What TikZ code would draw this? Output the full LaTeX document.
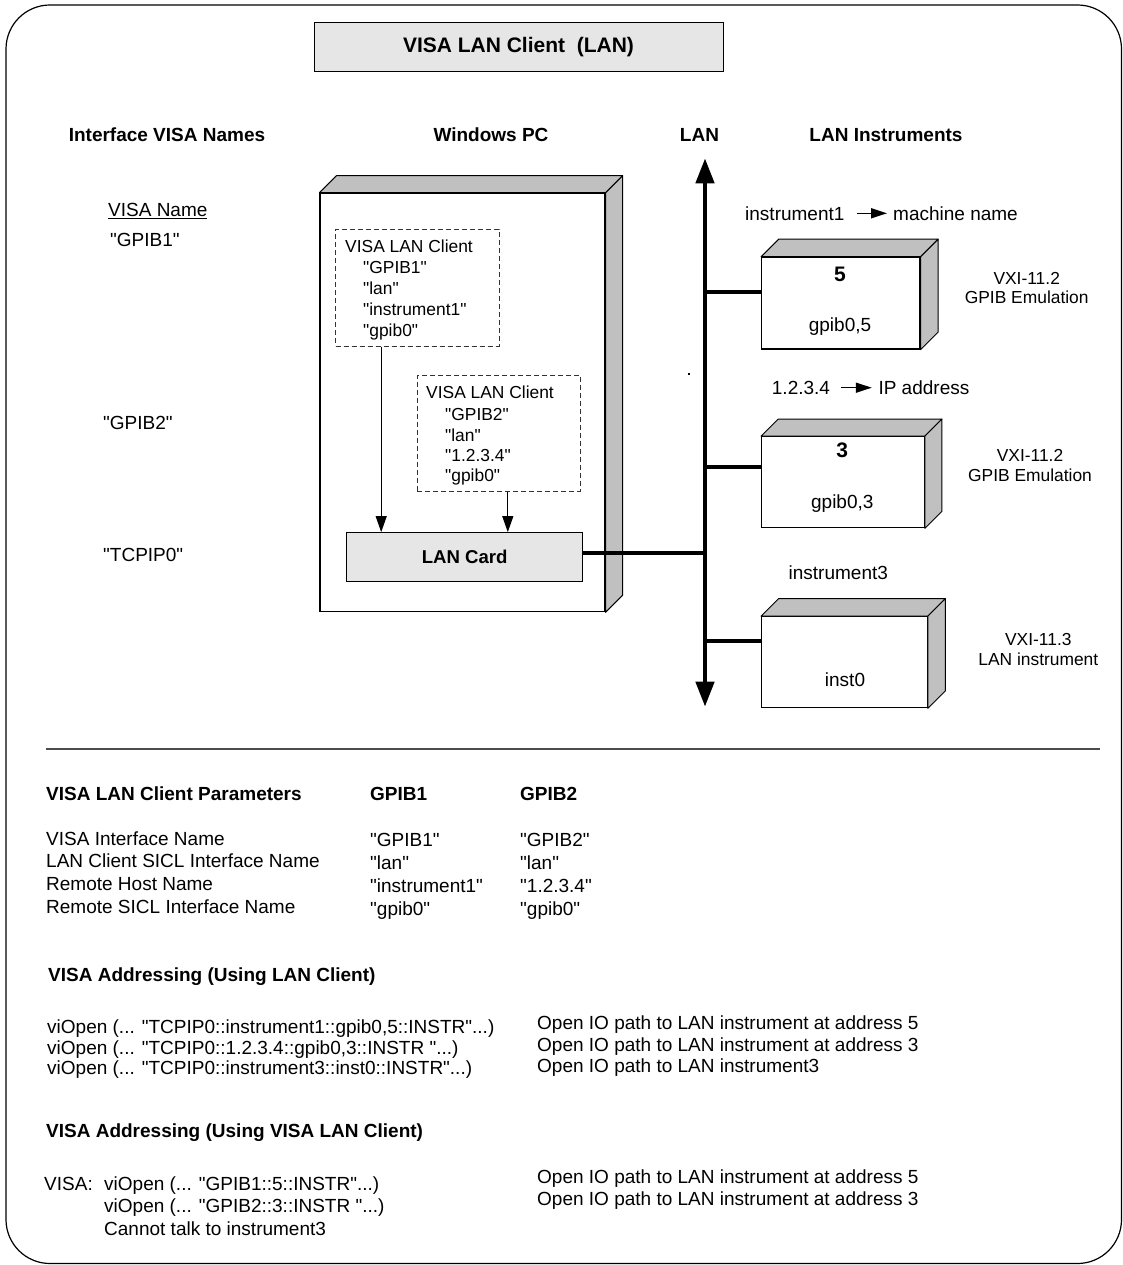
\documentclass[tikz,border=0pt]{standalone}
\usepackage{fontspec}
\setmainfont{Liberation Sans}[Ligatures=TeXOff]
\usetikzlibrary{arrows.meta}
\definecolor{lgray}{HTML}{E6E6E6}
\definecolor{sgray}{HTML}{C0C0C0}
\newcommand\boxsides[2]{%
  \filldraw[side] (#1.north west) -- ++(#2,-#2) -- ([shift={(#2,-#2)}]#1.north east) -- (#1.north east) -- cycle;
  \filldraw[side] (#1.north east) -- ([shift={(#2,-#2)}]#1.north east) -- ([shift={(#2,-#2)}]#1.south east) -- (#1.south east) -- cycle;}
\begin{document}
\begin{tikzpicture}[x=1pt,y=-1pt,
  t19/.style={font=\fontsize{19}{22}\selectfont, inner sep=0pt, text height=13.6pt, text depth=0pt},
  b19/.style={t19, font=\fontsize{19}{22}\selectfont\bfseries},
  t17/.style={font=\fontsize{17.4}{21}\selectfont, inner sep=0pt, text height=12.5pt, text depth=0pt},
  side/.style={fill=sgray, draw=black, line width=1pt, line join=round},
  front/.style={draw=black, fill=white, line width=1.2pt, inner sep=0pt},
  dbox/.style={draw=black!80, line width=1pt, dash pattern=on 5pt off 3pt, inner sep=0pt},
  arr/.style={line width=1.1pt, -{Triangle[length=16pt,width=11pt]}},
  smallarr/.style={line width=1.5pt, -{Triangle[length=16pt,width=10pt]}},
  bus/.style={line width=4.5pt},
  stub/.style={line width=4pt}]
\useasboundingbox (0,0) rectangle (1123,1265);
% frame
\draw[line width=1.2pt, rounded corners=44pt] (6,5) rectangle (1121.5,1263.5);
% title
\node[draw, fill=lgray, line width=1pt, minimum width=409pt, minimum height=49pt, inner sep=0pt,
      font=\fontsize{21}{24}\selectfont\bfseries] (title) at (518.5,47.2) {VISA LAN Client\ \ (LAN)};
% headers
\node[b19] (h1) at (167,135) {Interface VISA Names};
\node[b19] (h2) at (491,135) {Windows PC};
\node[b19] (h3) at (699.5,135) {LAN};
\node[b19] (h4) at (886,135) {LAN Instruments};
% left names
\node[t19, anchor=west] (vn) at (108,210) {\underline{VISA Name}};
\node[t19, anchor=west] (n1) at (110,240) {"GPIB1"};
\node[t19, anchor=west] (n2) at (103,423) {"GPIB2"};
\node[t19, anchor=west] (n3) at (103,555) {"TCPIP0"};
% PC
\node[front, minimum width=285pt, minimum height=418.4pt] (pc) at (462.5,402.5) {};
\boxsides{pc}{17}
\node[dbox, minimum width=163.3pt, minimum height=116.7pt] (c1) at (417.35,287.65) {};
\node[t17, anchor=west] (c1a) at (345,246) {VISA LAN Client};
\node[t17, anchor=west] (c1b) at (363,267.3) {"GPIB1"};
\node[t17, anchor=west] (c1c) at (363,288.3) {"lan"};
\node[t17, anchor=west] (c1d) at (363,309.3) {"instrument1"};
\node[t17, anchor=west] (c1e) at (363,330.7) {"gpib0"};
\node[dbox, minimum width=162.7pt, minimum height=116pt] (c2) at (498.65,433) {};
\node[t17, anchor=west] (c2a) at (426,392.7) {VISA LAN Client};
\node[t17, anchor=west] (c2b) at (445,414.5) {"GPIB2"};
\node[t17, anchor=west] (c2c) at (445,435) {"lan"};
\node[t17, anchor=west] (c2d) at (445,455) {"1.2.3.4"};
\node[t17, anchor=west] (c2e) at (445,475.5) {"gpib0"};
\node[draw, fill=lgray, line width=1.2pt, minimum width=236pt, minimum height=49pt, inner sep=0pt,
      font=\fontsize{18.6}{22}\selectfont\bfseries] (card) at (464.7,557.2) {LAN Card};
\coordinate (a1) at ([xshift=46pt]c1.south west);
\coordinate (a2) at ([xshift=91pt]c2.south west);
\draw[arr] (a1) -- (a1 |- card.north);
\draw[arr] (a2) -- (a2 |- card.north);
% LAN bus
\coordinate (lanTop) at (705,158.3);
\coordinate (lanBot) at (705,706.7);
\draw[bus, {Triangle[length=25pt,width=18pt]}-{Triangle[length=25pt,width=18pt]}] (lanTop) -- (lanBot);
\coordinate (s0) at ([yshift=4pt]card.east);
\draw[stub] (s0) -- (s0 -| lanTop);
\fill (688,373) rectangle (690,375);
% instrument 1
\node[t19, anchor=west] (i1) at (745,213.3) {instrument1};
\node[t19, anchor=west] (mn) at (893,213.3) {machine name};
\draw[smallarr, shorten <=12pt, shorten >=6pt] (i1.east) -- (mn.west);
\node[front, minimum width=158.3pt, minimum height=91.7pt] (inst1) at (840.85,303.15) {};
\boxsides{inst1}{17.5}
\node[font=\fontsize{21}{24}\selectfont\bfseries, inner sep=0pt, text height=15pt, text depth=0pt] (k5) at (840,274) {5};
\node[t19] (g5) at (840,325) {gpib0,5};
\coordinate (s1) at ([yshift=11pt]inst1.west);
\draw[stub] (s1) -- (s1 -| lanTop);
\node[t17] (v1a) at (1026.7,278.3) {VXI-11.2};
\node[t17] (v1b) at (1026.7,297.7) {GPIB Emulation};
% instrument 2
\node[t19, anchor=west] (ip) at (771.7,387.7) {1.2.3.4};
\node[t19, anchor=west] (ipa) at (878.3,387.7) {IP address};
\draw[smallarr, shorten <=11pt, shorten >=6.5pt] (ip.east) -- (ipa.west);
\node[front, minimum width=162.6pt, minimum height=91pt] (inst2) at (843,482.2) {};
\boxsides{inst2}{17}
\node[font=\fontsize{21}{24}\selectfont\bfseries, inner sep=0pt, text height=15pt, text depth=0pt] (k3) at (842.3,450) {3};
\node[t19] (g3) at (842.3,501.7) {gpib0,3};
\coordinate (s2) at ([yshift=15.5pt]inst2.west);
\draw[stub] (s2) -- (s2 -| lanTop);
\node[t17] (v2a) at (1030,455) {VXI-11.2};
\node[t17] (v2b) at (1030,475) {GPIB Emulation};
% instrument 3
\node[t19] (i3) at (838.3,572.7) {instrument3};
\node[front, minimum width=165.6pt, minimum height=91pt] (inst3) at (844.5,662.2) {};
\boxsides{inst3}{17.5}
\node[t19] (g0) at (845,680) {inst0};
\coordinate (s3) at ([yshift=21pt]inst3.west);
\draw[stub] (s3) -- (s3 -| lanTop);
\node[t17] (v3a) at (1038.3,639) {VXI-11.3};
\node[t17] (v3b) at (1038.3,659.3) {LAN instrument};
% separator
\coordinate (sepL) at (46,749);
\coordinate (sepR) at (1100,749);
\draw[line width=1.2pt, black!70] (sepL) -- (sepR);
% parameters table
\node[b19, anchor=west] (p0) at (46,793.3) {VISA LAN Client Parameters};
\node[b19, anchor=west] (p0a) at (370,793.3) {GPIB1};
\node[b19, anchor=west] (p0b) at (520,793.3) {GPIB2};
\node[t19, anchor=west] (p1) at (46,838.3) {VISA Interface Name};
\node[t19, anchor=west] (p2) at (46,860.7) {LAN Client SICL Interface Name};
\node[t19, anchor=west] (p3) at (46,883.3) {Remote Host Name};
\node[t19, anchor=west] (p4) at (46,906.7) {Remote SICL Interface Name};
\node[t19, anchor=west] (p1a) at (370,839.5) {"GPIB1"};
\node[t19, anchor=west] (p2a) at (370,862.5) {"lan"};
\node[t19, anchor=west] (p3a) at (370,885.5) {"instrument1"};
\node[t19, anchor=west] (p4a) at (370,909) {"gpib0"};
\node[t19, anchor=west] (p1b) at (520,839.5) {"GPIB2"};
\node[t19, anchor=west] (p2b) at (520,862.5) {"lan"};
\node[t19, anchor=west] (p3b) at (520,885.5) {"1.2.3.4"};
\node[t19, anchor=west] (p4b) at (520,909) {"gpib0"};
% addressing LAN client
\node[b19, anchor=west] (q0) at (48,975) {VISA Addressing (Using LAN Client)};
\node[t19, anchor=west] (q1) at (47,1027) {viOpen (... "TCPIP0::instrument1::gpib0,5::INSTR"...)};
\node[t19, anchor=west] (q2) at (47,1047.5) {viOpen (... "TCPIP0::1.2.3.4::gpib0,3::INSTR "...)};
\node[t19, anchor=west] (q3) at (47,1068) {viOpen (... "TCPIP0::instrument3::inst0::INSTR"...)};
\node[t19, anchor=west] (r1) at (537,1023) {Open IO path to LAN instrument at address 5};
\node[t19, anchor=west] (r2) at (537,1044.5) {Open IO path to LAN instrument at address 3};
\node[t19, anchor=west] (r3) at (537,1065.5) {Open IO path to LAN instrument3};
% addressing VISA LAN client
\node[b19, anchor=west] (w0) at (46,1131) {VISA Addressing (Using VISA LAN Client)};
\node[t19, anchor=west] (w1v) at (44,1183.3) {VISA:};
\node[t19, anchor=west] (w1) at (104,1183.3) {viOpen (... "GPIB1::5::INSTR"...)};
\node[t19, anchor=west] (w2) at (104,1205.7) {viOpen (... "GPIB2::3::INSTR "...)};
\node[t19, anchor=west] (w3) at (104,1229) {Cannot talk to instrument3};
\node[t19, anchor=west] (x1) at (537,1176.7) {Open IO path to LAN instrument at address 5};
\node[t19, anchor=west] (x2) at (537,1198.3) {Open IO path to LAN instrument at address 3};
\end{tikzpicture}
\end{document}
